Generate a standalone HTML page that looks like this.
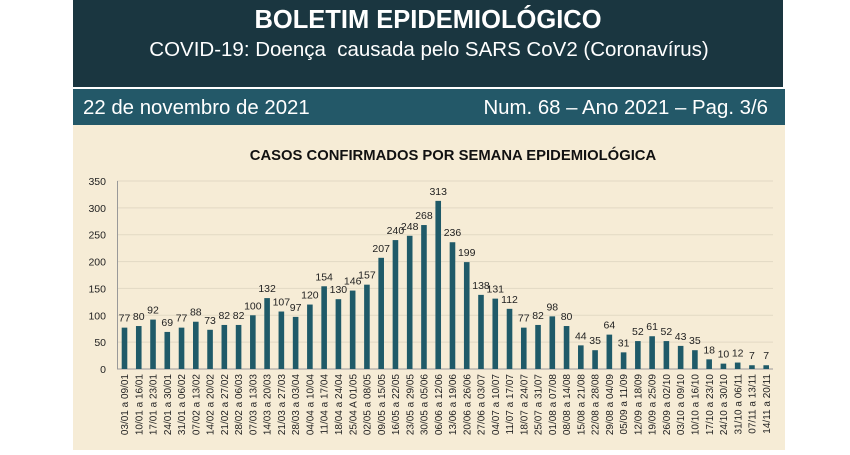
<!DOCTYPE html>
<html><head><meta charset="utf-8"><style>
body{margin:0;width:850px;height:450px;background:#fff;overflow:hidden;font-family:"Liberation Sans",sans-serif}
</style></head><body>
<svg width="850" height="450" xmlns="http://www.w3.org/2000/svg" font-family="Liberation Sans, sans-serif">
<rect x="73" y="0" width="710" height="87" fill="#1a3640"/>
<rect x="73" y="89" width="712" height="36" fill="#235868"/>
<rect x="73" y="125" width="712" height="325" fill="#f6ecd6"/>
<text x="428" y="28" text-anchor="middle" fill="#fff" font-size="25.5" font-weight="bold">BOLETIM EPIDEMIOLÓGICO</text>
<text x="429" y="56" text-anchor="middle" fill="#fff" font-size="20.5">COVID-19: Doença&#160; causada pelo SARS CoV2 (Coronavírus)</text>
<text x="83" y="114" fill="#fff" font-size="20.4">22 de novembro de 2021</text>
<text x="768" y="114" text-anchor="end" fill="#fff" font-size="20.4">Num. 68 – Ano 2021 – Pag. 3/6</text>
<text x="453" y="160" text-anchor="middle" fill="#111" font-size="14.8" font-weight="bold">CASOS CONFIRMADOS POR SEMANA EPIDEMIOLÓGICA</text>
<g id="c"></g>
</svg>
<script>
const d=[77,80,92,69,77,88,73,82,82,100,132,107,97,120,154,130,146,157,207,240,248,268,313,236,199,138,131,112,77,82,98,80,44,35,64,31,52,61,52,43,35,18,10,12,7,7];
const L=["03/01 a 09/01","10/01 a 16/01","17/01 a 23/01","24/01 a 30/01","31/01 a 06/02","07/02 a 13/02","14/02 a 20/02","21/02 a 27/02","28/02 a 06/03","07/03 a 13/03","14/03 a 20/03","21/03 a 27/03","28/03 a 03/04","04/04 a 10/04","11/04 a 17/04","18/04 a 24/04","25/04 A 01/05","02/05 a 08/05","09/05 a 15/05","16/05 a 22/05","23/05 a 29/05","30/05 a 05/06","06/06 a 12/06","13/06 a 19/06","20/06 a 26/06","27/06 a 03/07","04/07 a 10/07","11/07 a 17/07","18/07 a 24/07","25/07 a 31/07","01/08 a 07/08","08/08 a 14/08","15/08 a 21/08","22/08 a 28/08","29/08 a 04/09","05/09 a 11/09","12/09 a 18/09","19/09 a 25/09","26/09 a 02/10","03/10 a 09/10","10/10 a 16/10","17/10 a 23/10","24/10 a 30/10","31/10 a 06/11","07/11 a 13/11","14/11 a 20/11"];
const y0=369,k=188/350;let s="";
for(let v=0;v<=350;v+=50){const y=y0-v*k;s+=`<line x1="117" x2="773" y1="${y}" y2="${y}" stroke="${v?'#e2d9c4':'#999'}" stroke-width="1"/><text x="106" y="${y+4}" text-anchor="end" font-size="10.5" fill="#222">${v}</text>`;}
s+=`<line x1="117.5" x2="117.5" y1="181" y2="369" stroke="#999"/>`;
d.forEach((v,i)=>{const cx=124.5+i*14.26,h=v*k;
s+=`<rect x="${cx-2.8}" y="${y0-h}" width="5.6" height="${h}" fill="#1f5a68"/>`;
s+=`<text x="${cx}" y="${y0-h-6}" text-anchor="middle" font-size="10.5" fill="#222">${v}</text>`;
s+=`<text transform="translate(${cx+3.6},374) rotate(-90)" text-anchor="end" font-size="10" fill="#222">${L[i]}</text>`;});
document.getElementById("c").innerHTML=s;
</script>
</body></html>
